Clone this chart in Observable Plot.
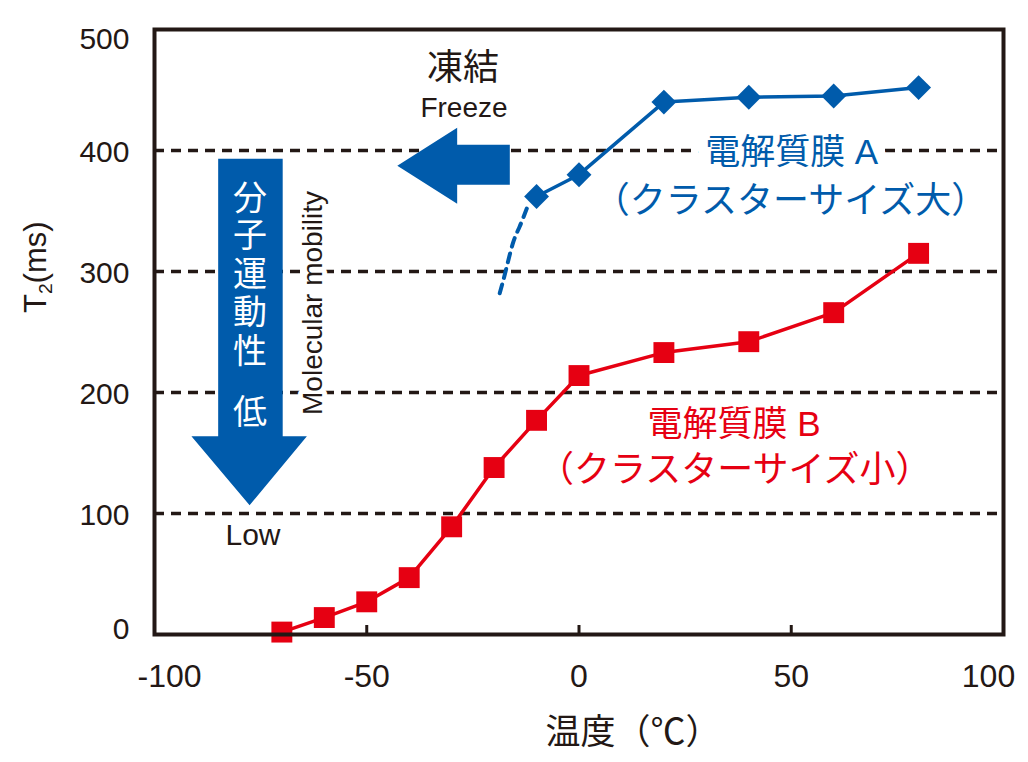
<!DOCTYPE html>
<html>
<head>
<meta charset="utf-8">
<script src="https://cdn.jsdelivr.net/npm/d3@7"></script>
<script src="https://cdn.jsdelivr.net/npm/@observablehq/plot@0.6"></script>
<style>
  html, body { margin: 0; padding: 0; background: #fff; }
  #chart svg { display: block; }
</style>
</head>
<body>
<div id="chart"></div>
<script>
// ---- data ----
const tempsB = [-70, -60, -50, -40, -30, -20, -10, 0, 20, 40, 60, 80];
const t2B    = [2, 14, 27, 47, 89, 138, 177, 214, 233, 242, 266, 315];
const tempsA = [-10, 0, 20, 40, 60, 80];
const t2A    = [362, 380, 440, 444, 445, 452];
// dashed extrapolation of membrane A below freezing
const tempsAdash = [-12.3, -14.0, -15.6, -17.3, -19.0];
const t2Adash    = [352, 337, 323, 300, 278];

const xTicks = [-100, -50, 0, 50, 100];
const yTicks = [0, 100, 200, 300, 400, 500];
const gridValues = [100, 200, 300, 400];
const xInnerTicks = [-50, 0, 50];

// annotation shapes (data units)
const freezeArrowX = [-42.8, -28.7, -28.7, -16.3, -16.3, -28.7, -28.7, -42.8];
const freezeArrowY = [387.4, 418.9, 404.8, 404.8, 371.7, 371.7, 356.0, 387.4];
const downArrowX = [-85.0, -69.8, -69.8, -64.1, -77.6, -91.3, -85.0, -85.0];
const downArrowY = [393.2, 393.2, 163.9, 163.9, 106.8, 163.9, 163.9, 393.2];

// annotation texts
const labelA1 = "電解質膜 A", labelA2 = "（クラスターサイズ大）";
const labelB1 = "電解質膜 B", labelB2 = "（クラスターサイズ小）";
const mobilityChars = ["分", "子", "運", "動", "性", "低"];
const mobilityCharY = [360, 329.5, 297, 266, 233, 183];

const BLUE = "#005BAB", RED = "#E60012", INK = "#231815";
const LATIN = "'Liberation Sans', Arial, 'Noto Sans CJK JP', sans-serif";
const CJK = "'Liberation Sans', 'Noto Sans CJK JP', sans-serif";

const dataB = tempsB.map((t, i) => ({t, v: t2B[i]}));
const dataA = tempsA.map((t, i) => ({t, v: t2A[i]}));
const dataAdash = tempsAdash.map((t, i) => ({t, v: t2Adash[i]}));
const freezePoly = freezeArrowX.map((x, i) => ({x, y: freezeArrowY[i]}));
const downPoly = downArrowX.map((x, i) => ({x, y: downArrowY[i]}));
const mobility = mobilityChars.map((c, i) => ({c, y: mobilityCharY[i]}));

const W = 1028, H = 762;
const mL = 154, mR = 25, mT = 29, mB = 128;
const plotW = W - mL - mR, plotH = H - mT - mB;
const xMin = d3.min(xTicks), xMax = d3.max(xTicks);
const yMin = d3.min(yTicks), yMax = d3.max(yTicks);

const yLab = {frameAnchor: "left", dx: -25, textAnchor: "end", text: d => String(d), fontSize: 30,
  fill: INK, fontFamily: LATIN, lineAnchor: "middle"};
const xLab = {frameAnchor: "bottom", dy: 42, text: d => String(d), fontSize: 32, fill: INK,
  fontFamily: LATIN, lineAnchor: "middle"};

const chart = Plot.plot({
  width: W, height: H,
  marginLeft: mL, marginRight: mR, marginTop: mT, marginBottom: mB,
  style: {background: "#fff", color: INK, fontFamily: LATIN},
  x: {domain: [xMin, xMax], axis: null},
  y: {domain: [yMin, yMax], axis: null},
  marks: [
    // dashed grid lines
    Plot.ruleY(gridValues, {stroke: INK, strokeWidth: 3.5, strokeDasharray: "10,7"}),
    // y axis labels (ends nudged inward, as in the reference)
    Plot.text(yTicks.filter(d => d > yMin && d < yMax), {...yLab, y: d => d, dy: 2}),
    Plot.text(yTicks.filter(d => d === yMax), {...yLab, y: d => d, dy: 10}),
    Plot.text(yTicks.filter(d => d === yMin), {...yLab, y: d => d, dy: -5}),
    // x axis labels (ends nudged inward, as in the reference)
    Plot.text(xTicks.filter(d => d > xMin && d < xMax), {...xLab, x: d => d}),
    Plot.text(xTicks.filter(d => d === xMin), {...xLab, x: d => d, dx: 15}),
    Plot.text(xTicks.filter(d => d === xMax), {...xLab, x: d => d, dx: -15}),
    // inward ticks
    Plot.tickY(gridValues, {y: d => d, stroke: INK, strokeWidth: 3, insetRight: plotW - 7}),
    Plot.tickX(xInnerTicks, {x: d => d, stroke: INK, strokeWidth: 3, insetTop: plotH - 9}),
    // arrows
    Plot.line(freezePoly, {x: "x", y: "y", fill: BLUE, stroke: "none", curve: "linear-closed"}),
    Plot.line(downPoly, {x: "x", y: "y", fill: BLUE, stroke: "none", curve: "linear-closed"}),
    // series A
    Plot.line(dataAdash, {x: "t", y: "v", stroke: BLUE, strokeWidth: 4, strokeDasharray: "9,7", curve: "natural"}),
    Plot.line(dataA, {x: "t", y: "v", stroke: BLUE, strokeWidth: 3.5}),
    Plot.dot(dataA, {x: "t", y: "v", symbol: "diamond2", r: 11.2, fill: BLUE, stroke: "none"}),
    // series B
    Plot.line(dataB, {x: "t", y: "v", stroke: RED, strokeWidth: 3.5}),
    Plot.dot(dataB, {x: "t", y: "v", symbol: "square", r: 11.8, fill: RED, stroke: "none"}),
    // annotations
    Plot.text([labelA1], {x: 50.1, y: 398.2, text: d => d, fill: BLUE, fontSize: 35, fontFamily: CJK,
      stroke: "white", strokeWidth: 22, lineAnchor: "middle"}),
    Plot.text([labelA2], {x: 49.8, y: 357.6, text: d => d, fill: BLUE, fontSize: 36, fontFamily: CJK, lineAnchor: "middle"}),
    Plot.text([labelB1], {x: 36.5, y: 173, text: d => d, fill: RED, fontSize: 35, fontFamily: CJK, lineAnchor: "middle"}),
    Plot.text([labelB2], {x: 36.7, y: 135.8, text: d => d, fill: RED, fontSize: 36, fontFamily: CJK, lineAnchor: "middle"}),
    Plot.text(["凍結"], {x: -27.3, y: 467.7, text: d => d, fill: INK, fontSize: 36, fontFamily: CJK, lineAnchor: "middle"}),
    Plot.text(["Freeze"], {x: -27.1, y: 435.4, text: d => d, fill: INK, fontSize: 28, fontFamily: LATIN, lineAnchor: "middle"}),
    Plot.text(mobility, {x: -77.5, y: "y", text: "c", fill: "white", fontSize: 34, fontFamily: CJK, lineAnchor: "middle"}),
    Plot.text(["Molecular mobility"], {x: -62.6, y: 274, text: d => d, rotate: -90, fill: INK, fontSize: 28,
      fontFamily: LATIN, stroke: "white", strokeWidth: 10, lineAnchor: "middle"}),
    Plot.text(["Low"], {x: -76.8, y: 82, text: d => d, fill: INK, fontSize: 30, fontFamily: LATIN, lineAnchor: "middle"}),
    // axis titles
    Plot.text(["T2(ms)"], {frameAnchor: "left", rotate: -90, dx: -118, dy: -19, text: d => d, fill: INK,
      fontSize: 31, fontFamily: LATIN, lineAnchor: "middle"}),
    Plot.text(["温度（℃）"], {frameAnchor: "bottom", dx: 54, dy: 98, text: d => d, fill: INK,
      fontSize: 35, fontFamily: CJK, lineAnchor: "middle"}),
    // frame
    Plot.frame({stroke: INK, strokeWidth: 4})
  ]
});

// subscript "2" in the y-axis title
d3.select(chart).selectAll("text").filter(function() { return this.textContent === "T2(ms)"; })
  .each(function() {
    const t = d3.select(this);
    t.text(null);
    t.append("tspan").text("T");
    t.append("tspan").attr("font-size", "0.62em").attr("dy", "0.3em").text("2");
    t.append("tspan").attr("dy", "-0.19em").text("(ms)");
  });

document.getElementById("chart").appendChild(chart);
</script>
</body>
</html>
